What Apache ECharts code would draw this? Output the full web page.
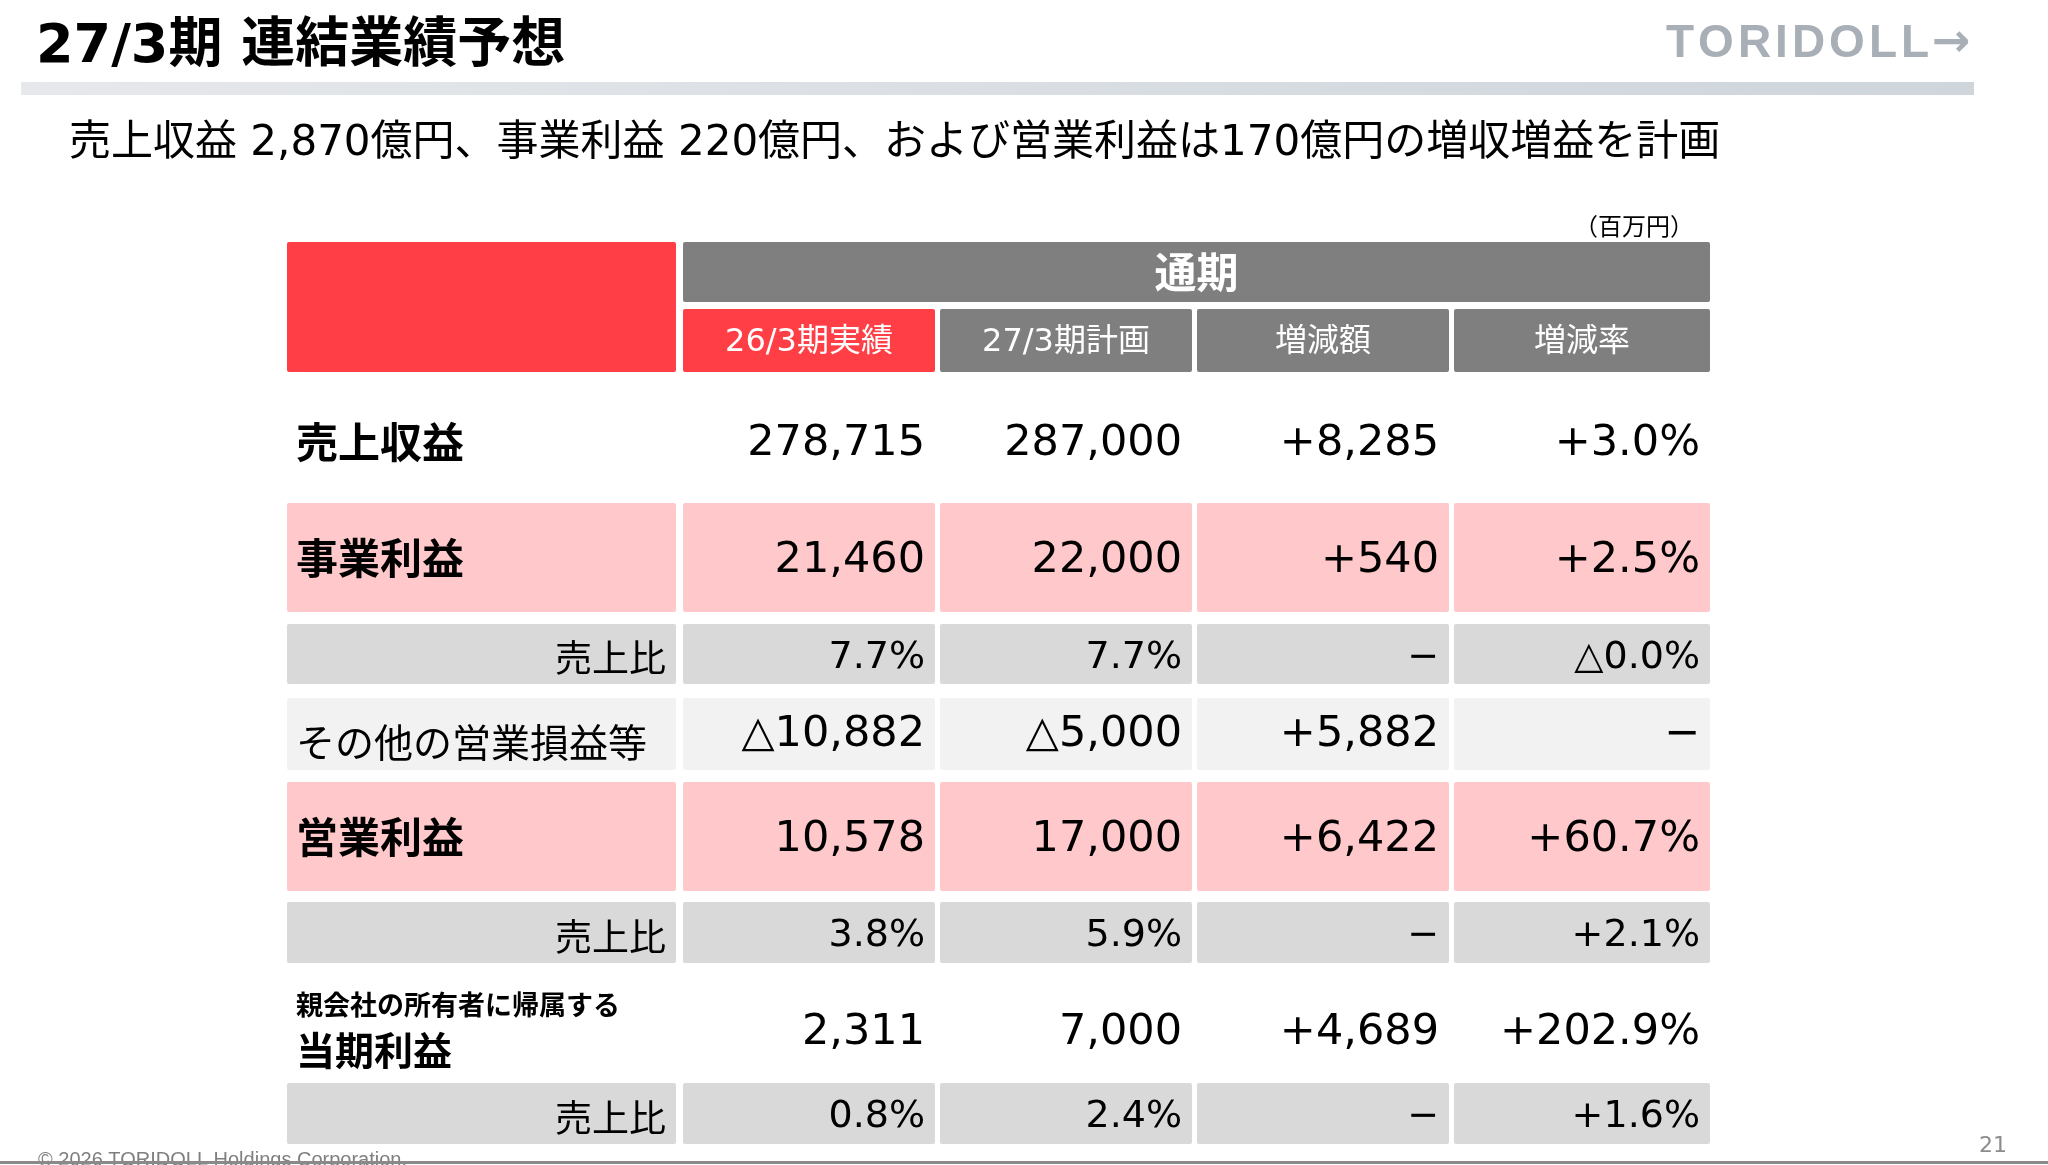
<!DOCTYPE html>
<html>
<head>
<meta charset="utf-8">
<title>27/3期 連結業績予想</title>
<script src="https://cdn.jsdelivr.net/npm/echarts@6.0.0/dist/echarts.min.js"></script>
<style>
  html, body { margin: 0; padding: 0; background: #fff; }
  #main { width: 2048px; height: 1165px; }
</style>
</head>
<body>
<div id="main"></div>
<script>
// ---- table data ----
const headerTop = '通期';
const columns = ['26/3期実績', '27/3期計画', '増減額', '増減率'];
const rowLabels = ['売上収益', '事業利益', '売上比', 'その他の営業損益等', '営業利益', '売上比',
  '親会社の所有者に帰属する\n当期利益', '売上比'];
const actual26 = ['278,715', '21,460', '7.7%', '△10,882', '10,578', '3.8%', '2,311', '0.8%'];
const plan27 = ['287,000', '22,000', '7.7%', '△5,000', '17,000', '5.9%', '7,000', '2.4%'];
const change = ['+8,285', '+540', '−', '+5,882', '+6,422', '−', '+4,689', '−'];
const changeRate = ['+3.0%', '+2.5%', '△0.0%', '−', '+60.7%', '+2.1%', '+202.9%', '+1.6%'];

// ---- layout / style (table units = px inside grid) ----
const CJK = '"Noto Sans CJK JP", sans-serif';
const NUM = '"DejaVu Sans", "Noto Sans CJK JP", sans-serif';
const RED = '#ff3f45', HEAD_GRAY = '#7f7f7f', PINK = '#ffc8ca', GRAY = '#d9d9d9', LIGHT = '#f2f2f2';
const colEdges = [[0, 389], [396, 648], [653, 905], [910, 1162], [1167, 1423]];
const headRows = [[0, 60], [67, 130]];
const bodyRows = [[143, 255], [261, 370], [382, 442], [456, 528], [540, 649], [660, 721], [743, 833], [841, 902]];
const rowKind = ['main', 'main', 'ratio', 'other', 'main', 'ratio', 'net', 'ratio'];
const rowFill = [null, PINK, GRAY, LIGHT, PINK, GRAY, null, GRAY];

const cells = [];
// header
cells.push({ x0: colEdges[0][0], x1: colEdges[0][1], y0: headRows[0][0], y1: headRows[1][1], fill: RED });
cells.push({ x0: colEdges[1][0], x1: colEdges[4][1], y0: headRows[0][0], y1: headRows[0][1], fill: HEAD_GRAY,
  text: headerTop, font: 'bold 42px ' + CJK, color: '#fff', align: 'center', dy: 0 });
columns.forEach((c, j) => {
  cells.push({ x0: colEdges[j + 1][0], x1: colEdges[j + 1][1], y0: headRows[1][0], y1: headRows[1][1],
    fill: j === 0 ? RED : HEAD_GRAY, text: c, font: '32px ' + NUM, color: '#fff', align: 'center', dy: 2 });
});
// body
const valueCols = [actual26, plan27, change, changeRate];
rowLabels.forEach((label, i) => {
  const kind = rowKind[i];
  const r = bodyRows[i];
  const lab = { x0: colEdges[0][0], x1: colEdges[0][1], y0: r[0], y1: r[1], fill: rowFill[i], text: label, color: '#000' };
  if (kind === 'main') Object.assign(lab, { font: 'bold 42px ' + CJK, align: 'left', dy: 1 });
  if (kind === 'ratio') Object.assign(lab, { font: '37px ' + CJK, align: 'right', dy: 4 });
  if (kind === 'other') Object.assign(lab, { font: '39px ' + CJK, align: 'left', dy: 8 });
  if (kind === 'net') Object.assign(lab, {
    text: '{s|親会社の所有者に帰属する}\n{b|当期利益}', font: 'bold 39px ' + CJK, align: 'left', dy: 0,
    rich: { s: { font: 'bold 27px ' + CJK, lineHeight: 40, fill: '#000' }, b: { font: 'bold 39px ' + CJK, lineHeight: 50, fill: '#000' } }
  });
  cells.push(lab);
  valueCols.forEach((vals, j) => {
    cells.push({ x0: colEdges[j + 1][0], x1: colEdges[j + 1][1], y0: r[0], y1: r[1], fill: rowFill[i],
      text: vals[i], font: (kind === 'ratio' ? '38px ' : '43px ') + NUM, color: '#000', align: 'right',
      dy: kind === 'ratio' ? 4 : (kind === 'other' ? 1 : 3) });
  });
});

const chart = echarts.init(document.getElementById('main'), null, { renderer: 'canvas' });

function renderCell(params, api) {
  const c = cells[params.dataIndex];
  const p0 = api.coord([api.value(0), api.value(1)]);
  const p1 = api.coord([api.value(2), api.value(3)]);
  const children = [];
  if (c.fill) {
    children.push({ type: 'rect', shape: { x: p0[0], y: p0[1], width: p1[0] - p0[0], height: p1[1] - p0[1], r: 2 },
      style: { fill: c.fill } });
  }
  if (c.text) {
    const tx = c.align === 'left' ? p0[0] + 9 : c.align === 'right' ? p1[0] - 10 : (p0[0] + p1[0]) / 2;
    children.push({ type: 'text', x: tx, y: (p0[1] + p1[1]) / 2 + c.dy,
      style: { text: c.text, font: c.font, fill: c.color, align: c.align, verticalAlign: 'middle',
        textAlign: c.align, textVerticalAlign: 'middle', rich: c.rich } });
  }
  return { type: 'group', children };
}

const logoRich = { l: { font: 'bold 46px "Liberation Sans", sans-serif', fill: '#a9afb6', padding: [0, 2] },
  a: { font: 'bold 46px "DejaVu Sans", sans-serif', fill: '#a9afb6', padding: [0, 0, 0, 1] } };

chart.setOption({
  animation: false,
  grid: { left: 287, top: 242, width: 1423, height: 902 },
  xAxis: { type: 'value', min: 0, max: 1423, show: false },
  yAxis: { type: 'value', min: 0, max: 902, inverse: true, show: false },
  series: [{
    type: 'custom',
    silent: true,
    clip: false,
    renderItem: renderCell,
    encode: { x: [0, 2], y: [1, 3] },
    data: cells.map(c => [c.x0, c.y0, c.x1, c.y1])
  }],
  graphic: [
    { type: 'rect', shape: { x: 21, y: 82, width: 1953, height: 13 },
      style: { fill: new echarts.graphic.LinearGradient(0, 0, 1, 0, [
        { offset: 0, color: '#e6e8eb' }, { offset: 1, color: '#ced5db' }]) } },
    { type: 'text', x: 36, y: 48, style: { text: '27/3期 連結業績予想', font: 'bold 54px ' + NUM, fill: '#000',
      textAlign: 'left', textVerticalAlign: 'middle', align: 'left', verticalAlign: 'middle' } },
    { type: 'text', x: 1664, y: 44, style: { text: '{l|T}{l|O}{l|R}{l|I}{l|D}{l|O}{l|L}{l|L}{a|→}', rich: logoRich,
      textAlign: 'left', textVerticalAlign: 'middle', align: 'left', verticalAlign: 'middle' } },
    { type: 'text', x: 69, y: 144, style: { text: '売上収益 2,870億円、事業利益 220億円、および営業利益は170億円の増収増益を計画',
      font: '42px ' + NUM, fill: '#000', textAlign: 'left', textVerticalAlign: 'middle', align: 'left', verticalAlign: 'middle' } },
    { type: 'text', x: 1694, y: 226, style: { text: '（百万円）', font: '24px ' + CJK, fill: '#000',
      textAlign: 'right', textVerticalAlign: 'middle', align: 'right', verticalAlign: 'middle' } },
    { type: 'text', x: 38, y: 1150, style: { text: '© 2026 TORIDOLL Holdings Corporation.', font: '20px "Liberation Sans", sans-serif',
      fill: '#7f7f7f', textAlign: 'left', textVerticalAlign: 'top', align: 'left', verticalAlign: 'top' } },
    { type: 'text', x: 2007, y: 1146, style: { text: '21', font: '22px ' + NUM, fill: '#8c8c8c',
      textAlign: 'right', textVerticalAlign: 'middle', align: 'right', verticalAlign: 'middle' } },
    { type: 'rect', shape: { x: 0, y: 1161, width: 2048, height: 3 }, style: { fill: '#8a8a8a' } }
  ]
});
</script>
</body>
</html>
